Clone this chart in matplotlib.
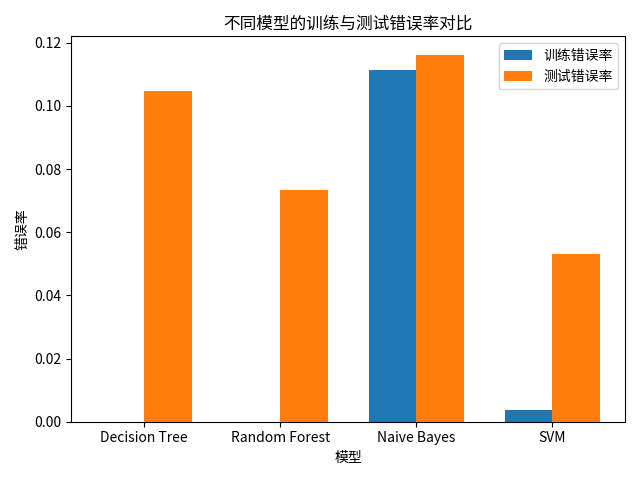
import matplotlib
matplotlib.use('Agg')
import matplotlib.pyplot as plt
import numpy as np

plt.rcParams['font.family'] = ['Noto Sans CJK SC', 'DejaVu Sans']
plt.rcParams['axes.unicode_minus'] = False

models = ['Decision Tree', 'Random Forest', 'Naive Bayes', 'SVM']
train_err = [0.0, 0.0, 0.1115, 0.0038]
test_err = [0.1046, 0.0735, 0.1162, 0.0531]

x = np.arange(len(models))
width = 0.35

fig, ax = plt.subplots(figsize=(6.4, 4.8), dpi=100)
ax.bar(x - width / 2, train_err, width, label='训练错误率', color='#1f77b4')
ax.bar(x + width / 2, test_err, width, label='测试错误率', color='#ff7f0e')

ax.set_xticks(x)
ax.set_xticklabels(models)
ax.set_xlabel('模型')
ax.set_ylabel('错误率')
ax.set_title('不同模型的训练与测试错误率对比')
ax.legend()
plt.tight_layout()
plt.savefig('out.png', dpi=100)
